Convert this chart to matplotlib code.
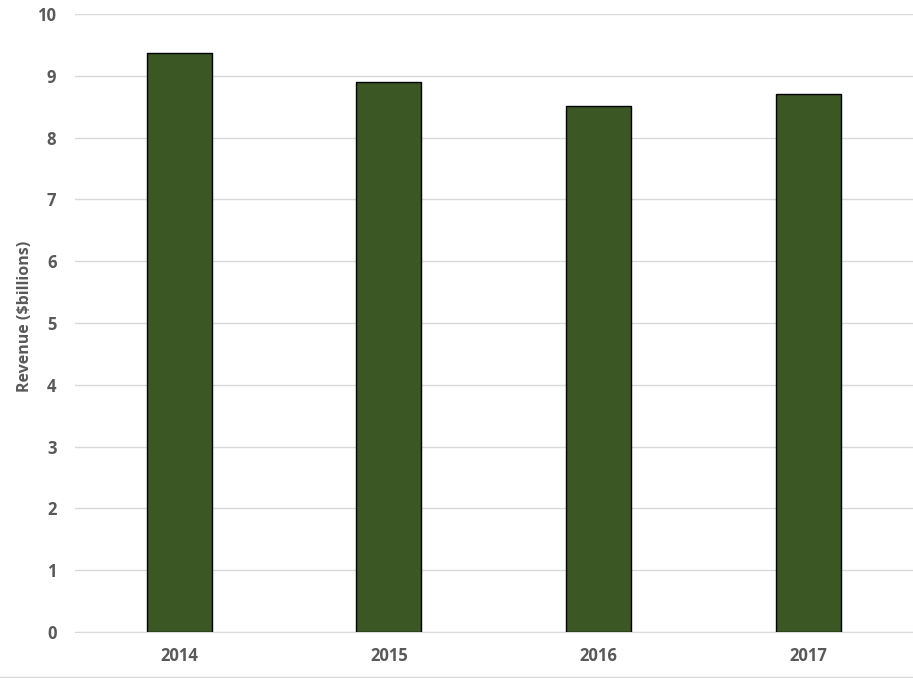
import matplotlib.pyplot as plt
from matplotlib.lines import Line2D

years = ['2014', '2015', '2016', '2017']
revenue = [9.37, 8.90, 8.51, 8.71]

plt.rcParams['font.family'] = ['Open Sans', 'DejaVu Sans']
grey = '#595959'

fig = plt.figure(figsize=(9.13, 6.78), dpi=100)
ax = fig.add_axes([74.5/913, 46/678, (913-74.5)/913, (632-14)/678])

ax.bar(range(len(years)), revenue, width=0.31, color='#3A5724', edgecolor='black', linewidth=1, zorder=3)
ax.set_xlim(-0.5, 3.5)
ax.set_ylim(0, 10)
ax.set_yticks(range(0, 11))
ax.set_xticks(range(len(years)))
ax.set_xticklabels(years)
ax.grid(axis='y', color='#D9D9D9', linewidth=1, zorder=0)
for s in ['top', 'right', 'left']:
    ax.spines[s].set_visible(False)
ax.spines['bottom'].set_color('#D9D9D9')
ax.tick_params(length=0, labelsize=12, labelcolor=grey)
ax.tick_params(axis='y', pad=13)
ax.tick_params(axis='x', pad=11)
for lab in ax.get_xticklabels() + ax.get_yticklabels():
    lab.set_fontweight('bold')
ax.set_ylabel('Revenue ($billions)', fontsize=11.5, fontweight='bold', color=grey)
ax.yaxis.set_label_coords((33 - 74.5) / 838.5, 0.51)

fig.add_artist(Line2D([0, 1], [1/678, 1/678], color='#D9D9D9', linewidth=1, transform=fig.transFigure))

plt.savefig('out.png', dpi=100)
